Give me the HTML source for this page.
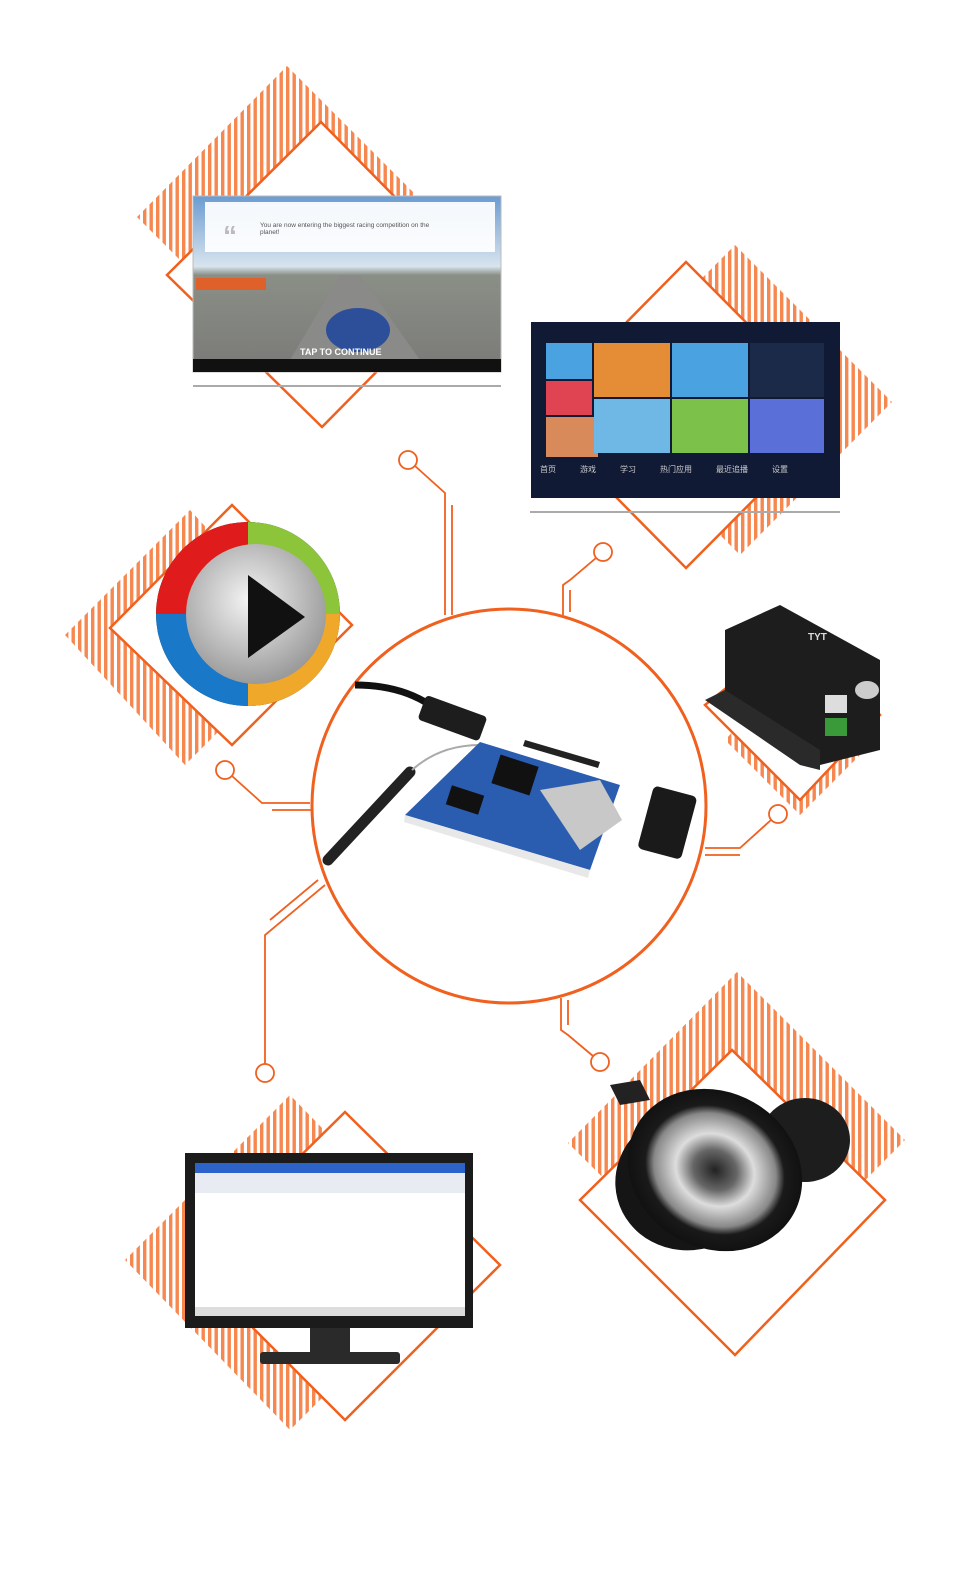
<!DOCTYPE html>
<html><head><meta charset="utf-8"><style>
html,body{margin:0;padding:0;background:#fff;}
svg{display:block}
</style></head><body>
<svg width="968" height="1572" viewBox="0 0 968 1572" xmlns="http://www.w3.org/2000/svg" font-family="Liberation Sans, Noto Sans CJK SC, sans-serif">
<defs>
<pattern id="st" width="6.5" height="10" patternUnits="userSpaceOnUse">
<rect width="6.5" height="10" fill="#fff"/><rect x="0" width="3.4" height="10" fill="#f5874f"/>
</pattern>
<linearGradient id="sky" x1="0" y1="0" x2="0" y2="1"><stop offset="0" stop-color="#6b9bd1"/><stop offset="0.4" stop-color="#d8e4ee"/><stop offset="0.45" stop-color="#8a8f86"/><stop offset="1" stop-color="#7a7a78"/></linearGradient>
<radialGradient id="pb" cx="0.45" cy="0.4" r="0.6"><stop offset="0" stop-color="#f4f4f4"/><stop offset="1" stop-color="#9a9a9a"/></radialGradient>
<radialGradient id="spk" cx="0.5" cy="0.5" r="0.5"><stop offset="0" stop-color="#222"/><stop offset="0.25" stop-color="#666"/><stop offset="0.45" stop-color="#ddd"/><stop offset="0.7" stop-color="#888"/><stop offset="0.8" stop-color="#1a1a1a"/><stop offset="1" stop-color="#111"/></radialGradient>
</defs>
<g stroke="none" fill="url(#st)">
<polygon points="287,66 415,194 265,345 137,217"/>
<polygon points="735,245 892,402 740,555 583,398"/>
<polygon points="190,510 310,640 185,765 65,635"/>
<polygon points="800,660 880,735 800,815 725,740"/>
<polygon points="290,1095 455,1265 290,1430 125,1260"/>
<polygon points="737,972 905,1140 737,1310 568,1143"/>
</g>
<g fill="#fff" stroke="#f0601e" stroke-width="2.5">
<polygon points="321,122 472,275 322,427 167,275"/>
<polygon points="686,262 838,415 686,568 535,415"/>
<polygon points="232,505 352,625 232,745 110,628"/>
<polygon points="805,625 880,715 800,800 705,705"/>
<polygon points="345,1112 500,1265 345,1420 190,1265"/>
<polygon points="732,1050 885,1200 735,1355 580,1200"/>
</g>
<g fill="none" stroke="#f0601e" stroke-width="1.8">
<circle cx="408" cy="460" r="9"/><polyline points="415,466 445,493 445,615"/><line x1="452" y1="505" x2="452" y2="615"/>
<circle cx="603" cy="552" r="9"/><polyline points="596,558 570,580 563,585 563,615"/><line x1="570" y1="590" x2="570" y2="612"/>
<circle cx="225" cy="770" r="9"/><polyline points="232,776 262,803 310,803"/><line x1="272" y1="810" x2="312" y2="810"/>
<circle cx="778" cy="814" r="9"/><polyline points="771,820 740,848 705,848"/><line x1="705" y1="855" x2="740" y2="855"/>
<circle cx="265" cy="1073" r="9"/><polyline points="265,1064 265,935 325,885"/><line x1="270" y1="920" x2="318" y2="880"/>
<circle cx="600" cy="1062" r="9"/><polyline points="593,1056 568,1035 561,1030 561,998"/><line x1="568" y1="1000" x2="568" y2="1025"/>
</g>
<circle cx="509" cy="806" r="197" fill="#fff" stroke="#f0601e" stroke-width="3"/>
<g>
<path d="M355,685 Q400,685 430,705" stroke="#111" stroke-width="7" fill="none"/>
<rect x="420" y="705" width="65" height="26" rx="4" fill="#1d1d1d" transform="rotate(20 452 718)"/>
<path d="M328,860 L410,772" stroke="#222" stroke-width="11" stroke-linecap="round"/>
<path d="M412,770 Q440,745 480,745" stroke="#aaa" stroke-width="2" fill="none"/>
<polygon points="480,742 620,785 590,870 405,815" fill="#2a5db0"/>
<polygon points="405,815 590,870 588,878 404,822" fill="#e8e8e8"/>
<rect x="495" y="760" width="40" height="30" fill="#111" transform="rotate(18 515 775)"/>
<rect x="448" y="790" width="34" height="20" fill="#111" transform="rotate(18 465 800)"/>
<polygon points="540,790 600,780 622,820 580,850" fill="#c8c8c8"/>
<polygon points="525,740 600,762 598,768 523,746" fill="#222"/>
<rect x="645" y="790" width="45" height="65" rx="5" fill="#1a1a1a" transform="rotate(15 667 822)"/>
</g>
<rect x="193" y="196" width="308" height="176" fill="url(#sky)" stroke="#bbb"/>
<rect x="205" y="202" width="290" height="50" fill="#fff" opacity="0.92"/>
<text x="223" y="245" font-size="28" fill="#bbb" font-weight="bold">“</text>
<text x="260" y="227" font-size="6.5" fill="#555">You are now entering the biggest racing competition on the</text>
<text x="260" y="234" font-size="6.5" fill="#555">planet!</text>
<rect x="196" y="278" width="70" height="12" fill="#e0602a"/>
<polygon points="290,360 340,275 360,275 420,360" fill="#8a8a88"/>
<ellipse cx="358" cy="330" rx="32" ry="22" fill="#2d4f9a"/>
<text x="300" y="355" font-size="9" fill="#fff" font-weight="bold">TAP TO CONTINUE</text>
<rect x="193" y="359" width="308" height="13" fill="#111"/>
<line x1="193" y1="386" x2="501" y2="386" stroke="#aaa" stroke-width="2"/>
<rect x="531" y="322" width="309" height="176" fill="#111a35"/>
<rect x="546" y="343" width="46" height="36" fill="#4aa3e0"/>
<rect x="546" y="381" width="46" height="34" fill="#e04452"/>
<rect x="546" y="417" width="52" height="40" fill="#d98a5a"/>
<rect x="594" y="343" width="76" height="54" fill="#e58c36"/>
<rect x="672" y="343" width="76" height="54" fill="#4aa3e0"/>
<rect x="750" y="343" width="74" height="54" fill="#1c2a4a"/>
<rect x="594" y="399" width="76" height="54" fill="#6fb8e5"/>
<rect x="672" y="399" width="76" height="54" fill="#7cc24a"/>
<rect x="750" y="399" width="74" height="54" fill="#5a6fd8"/>
<text x="540" y="472" font-size="8" fill="#ccc">首页　　　游戏　　　学习　　　热门应用　　　最近追播　　　设置</text>
<line x1="530" y1="512" x2="840" y2="512" stroke="#aaa" stroke-width="2"/>
<circle cx="248" cy="614" r="92" fill="#111"/>
<path d="M248,614 L248,522 A92,92 0 0 0 156,614 Z" fill="#e01b1b"/>
<path d="M248,614 L156,614 A92,92 0 0 0 248,706 Z" fill="#1a78c8"/>
<path d="M248,614 L248,522 A92,92 0 0 1 340,614 Z" fill="#8cc43a"/>
<path d="M248,614 L340,614 A92,92 0 0 1 248,706 Z" fill="#f0a82a"/>
<circle cx="256" cy="614" r="70" fill="url(#pb)"/>
<polygon points="248,575 305,617 248,658" fill="#111"/>
<polygon points="725,630 780,605 880,660 880,750 820,765 725,700" fill="#1d1d1d"/>
<polygon points="705,700 725,690 820,750 820,770 800,765" fill="#2a2a2a"/>
<rect x="825" y="695" width="22" height="18" fill="#ddd"/>
<rect x="825" y="718" width="22" height="18" fill="#3a9a3a"/>
<ellipse cx="867" cy="690" rx="12" ry="9" fill="#ccc"/>
<text x="808" y="640" font-size="10" fill="#ddd" font-weight="bold">TYT</text>
<rect x="185" y="1153" width="288" height="175" fill="#1b1b1b"/>
<rect x="195" y="1163" width="270" height="153" fill="#fff"/>
<rect x="195" y="1163" width="270" height="10" fill="#2c63c9"/>
<rect x="195" y="1173" width="270" height="20" fill="#e8ecf2"/>
<rect x="195" y="1307" width="270" height="9" fill="#ddd"/>
<rect x="310" y="1328" width="40" height="25" fill="#2a2a2a"/>
<rect x="260" y="1352" width="140" height="12" rx="3" fill="#2a2a2a"/>
<ellipse cx="805" cy="1140" rx="45" ry="42" fill="#1d1d1d"/>
<ellipse cx="690" cy="1180" rx="75" ry="70" fill="#151515" transform="rotate(-15 690 1180)"/>
<ellipse cx="715" cy="1170" rx="90" ry="78" fill="url(#spk)" transform="rotate(30 715 1170)"/>
<polygon points="610,1085 640,1080 650,1100 620,1105" fill="#222"/>
</svg>
</body></html>
